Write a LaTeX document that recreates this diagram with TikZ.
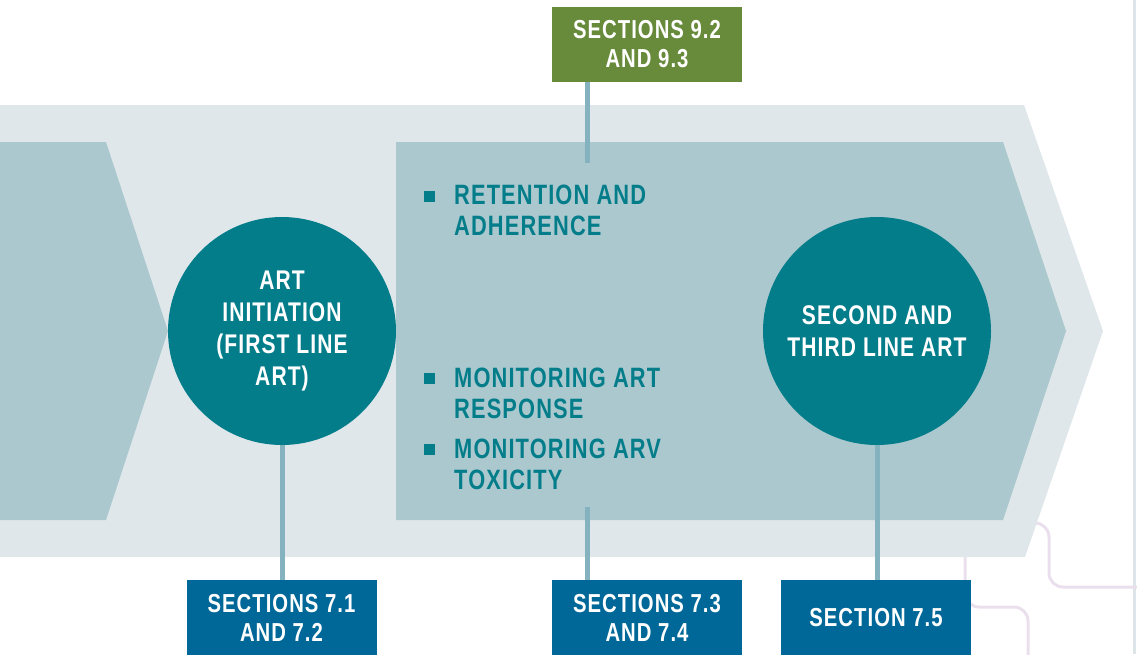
\documentclass[tikz,border=0pt]{standalone}
\usepackage{fontspec}
\setmainfont{Liberation Sans}[FakeStretch=0.78,LetterSpace=4]
\definecolor{bandlight}{HTML}{DFE7EA}
\definecolor{bandmid}{HTML}{ABC8CE}
\definecolor{tealdark}{HTML}{037D8A}
\definecolor{linkblue}{HTML}{84B2BE}
\definecolor{secgreen}{HTML}{678B3B}
\definecolor{secblue}{HTML}{006898}
\definecolor{pinkline}{HTML}{EADFEC}
\definecolor{edgegray}{HTML}{DDE5E8}

\begin{document}
\begin{tikzpicture}[x=1pt, y=-1pt,
  stage/.style={circle, fill=tealdark, minimum size=228pt, inner sep=0pt, text=white, align=center, font=\bfseries\fontsize{27}{32}\selectfont},
  secbox/.style={rectangle, minimum width=190pt, minimum height=75pt, inner sep=0pt, text=white, align=center, font=\bfseries\fontsize{26}{29}\selectfont},
  item/.style={anchor=base west, inner sep=0pt, text=tealdark, align=left, font=\bfseries\fontsize{28}{31}\selectfont},
  bullet/.style={rectangle, fill=tealdark, minimum size=11pt, inner sep=0pt},
  link/.style={draw=linkblue, line width=5pt},
  trace/.style={draw=pinkline, line width=3pt, rounded corners=14pt}]

\useasboundingbox (0,0) rectangle (1137,654);

\draw[edgegray, line width=3pt] (1134,0) -- (1134,654);
\draw[trace] (1020,523) -- (1049,523) -- (1049,587) -- (1137,587);
\draw[trace] (965,540) -- (965,607) -- (1028,607) -- (1028,660);

\fill[bandlight] (0,105) -- (1024,105) -- (1103,331) -- (1025,557) -- (0,557) -- cycle;
\fill[bandmid] (0,142) -- (106,142) -- (168,331) -- (106,520) -- (0,520) -- cycle;
\fill[bandmid] (396,142) -- (1003,142) -- (1066,331) -- (1003,520) -- (396,520) -- cycle;

\node[stage] (init) at (282,331) {ART\\INITIATION\\(FIRST LINE\\ART)};
\node[stage] (switch) at (877,331) {SECOND AND\\THIRD LINE ART};

\node[bullet] (b1) at (429,196) {};
\node[bullet] (b2) at (429,378) {};
\node[bullet] (b3) at (429,449) {};
\node[item] (retain) at (454,235) {RETENTION AND\\ADHERENCE};
\node[item] (monart) at (454,418) {MONITORING ART\\RESPONSE};
\node[item] (montox) at (454,489) {MONITORING ARV\\TOXICITY};

\node[secbox, fill=secgreen] (secG) at (647,44) {SECTIONS 9.2\\AND 9.3};
\node[secbox, fill=secblue] (secA) at (281.5,617.5) {SECTIONS 7.1\\AND 7.2};
\node[secbox, fill=secblue] (secB) at (647,617.5) {SECTIONS 7.3\\AND 7.4};
\node[secbox, fill=secblue] (secC) at (876,617.5) {SECTION 7.5};

\coordinate (topc) at (587,163);
\coordinate (botc) at (587,507);

\draw[link] (init) to (init |- secA.north);
\draw[link] (switch) to (switch |- secC.north);
\draw[link] (topc |- secG.south) to (topc);
\draw[link] (botc) to (botc |- secB.north);
\end{tikzpicture}
\end{document}
